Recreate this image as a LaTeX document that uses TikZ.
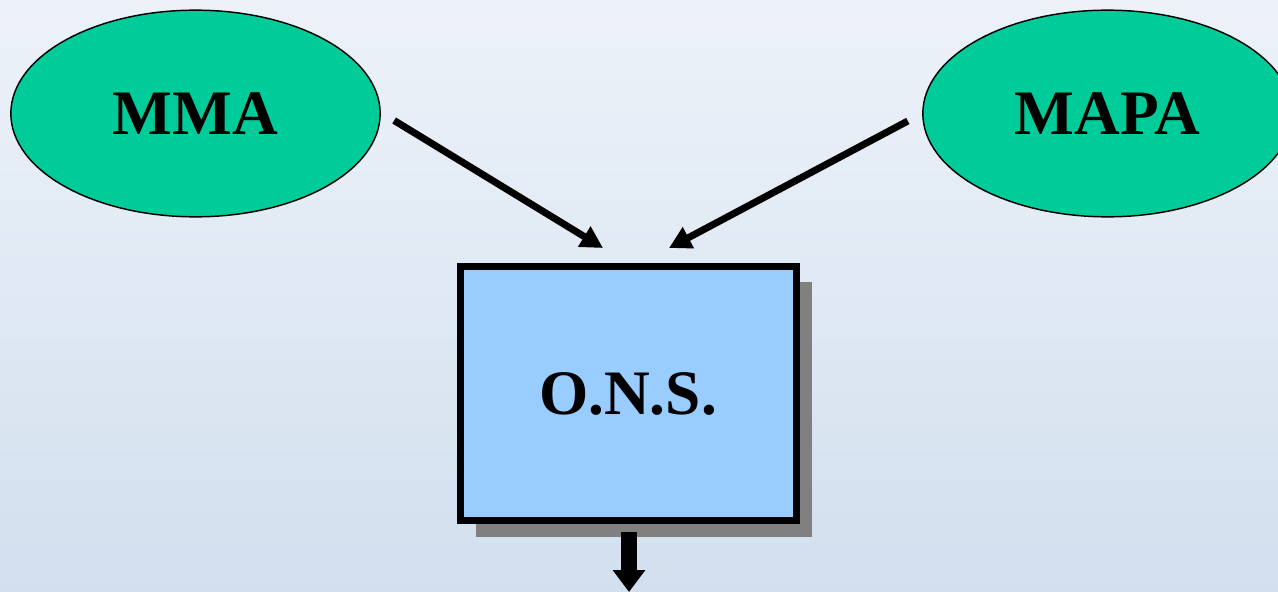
\documentclass[tikz,border=0pt]{standalone}
\usepackage{fontspec}
\setmainfont{Liberation Serif}
\usetikzlibrary{shapes.geometric,arrows.meta,shadows}
\definecolor{ministry}{HTML}{00CC99}
\definecolor{officeblue}{HTML}{99CCFF}
\definecolor{skytop}{HTML}{EDF2F9}
\definecolor{skybottom}{HTML}{D2DFEE}

\begin{document}
\begin{tikzpicture}[x=0.75pt,y=-0.75pt,
  agency/.style={ellipse, draw=black, line width=1.1pt, fill=ministry,
    minimum width=277pt, minimum height=155pt, inner sep=0pt, outer sep=0pt,
    font=\fontsize{47.5}{50}\selectfont\bfseries},
  office/.style={rectangle, draw=black, line width=5.25pt, fill=officeblue,
    minimum width=252pt, minimum height=191pt, inner sep=0pt,
    font=\fontsize{47.5}{50}\selectfont\bfseries,
    drop shadow={shadow xshift=12pt, shadow yshift=-12pt, fill=gray, opacity=1}},
  link/.style={line width=5.25pt, -{Triangle[length=16.5pt,width=17pt]}}]
\useasboundingbox (0,0) rectangle (1278,592);
\clip (0,0) rectangle (1278,592);
%background
\fill[top color=skytop, bottom color=skybottom] (0,0) rectangle (1278,592);

%ministries
\node[agency] (mma) at (195.5,113.5) {MMA};
\node[agency] (mapa) at (1107.5,113.5) {MAPA};

%office
\node[office] (ons) at (628,393.5) {O.N.S.};

\coordinate (in1) at (603,248);
\coordinate (in2) at (669,248);
\coordinate (out) at (629,592);

\draw[link] ([shift={(14,7)}]mma.east) -- (in1);
\draw[link] ([shift={(-15,7.5)}]mapa.west) -- (in2);
\draw[line width=12pt, -{Triangle[length=16.5pt,width=23.5pt]}]
  ([yshift=-6pt]ons.south -| out) -- (out);

\end{tikzpicture}
\end{document}
